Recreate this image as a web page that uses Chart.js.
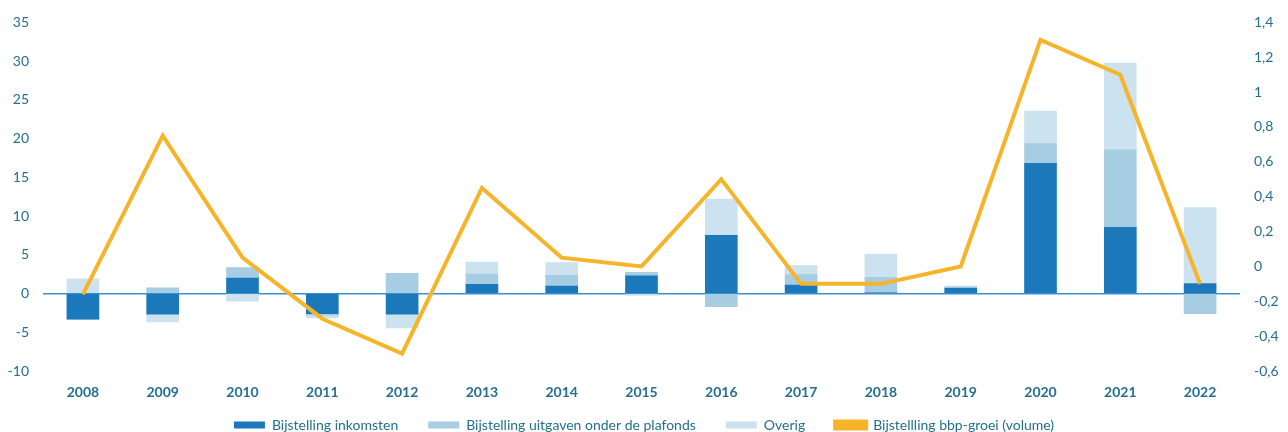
<!DOCTYPE html>
<html>
<head>
<meta charset="utf-8">
<script src="https://cdn.jsdelivr.net/npm/chart.js@4/dist/chart.umd.min.js"></script>
<style>
  html, body { margin: 0; padding: 0; background: #fff; }
  #wrap { width: 1288px; height: 432px; }
</style>
</head>
<body>
<div id="wrap"><canvas id="myChart" width="1288" height="432"></canvas></div>
<script>
const years = ['2008', '2009', '2010', '2011', '2012', '2013', '2014', '2015',
  '2016', '2017', '2018', '2019', '2020', '2021', '2022'];

// bijstellingen (mld euro), linkeras
const inkomsten = [-3.3, -2.65, 2.0, -2.6, -2.65, 1.2, 0.95, 2.3, 7.5, 1.1, 0.1, 0.7, 16.8, 8.55, 1.3];
const uitgaven = [0, 0.75, 1.35, -0.2, 2.6, 1.3, 1.4, 0.45, -1.7, 1.35, 2.0, 0, 2.55, 10.0, -2.6];
const overig = [1.9, -1.0, -1.0, -0.35, -1.8, 1.55, 1.65, -0.25, 4.7, 1.15, 3.0, 0.3, 4.2, 11.2, 9.8];

// bbp-groei (procentpunt), rechteras
const bbpGroei = [-0.16, 0.75, 0.05, -0.3, -0.5, 0.45, 0.05, 0, 0.5, -0.1, -0.1, 0, 1.3, 1.1, -0.1];

const tekstKleur = '#246f8f';
const font = 'Lato, "Open Sans", sans-serif';

const data = {
  labels: years,
  datasets: [{
    type: 'bar',
    label: 'Bijstelling inkomsten',
    data: inkomsten,
    backgroundColor: '#1a78bb',
    yAxisID: 'y',
    order: 1
  }, {
    type: 'bar',
    label: 'Bijstelling uitgaven onder de plafonds',
    data: uitgaven,
    backgroundColor: '#a6cde2',
    yAxisID: 'y',
    order: 1
  }, {
    type: 'bar',
    label: 'Overig',
    data: overig,
    backgroundColor: '#cde2ef',
    yAxisID: 'y',
    order: 1
  }, {
    type: 'line',
    label: 'Bijstellling bbp-groei (volume)',
    data: bbpGroei,
    borderColor: '#f6b42b',
    backgroundColor: '#f6b42b',
    borderWidth: 4,
    pointRadius: 0,
    tension: 0,
    yAxisID: 'y1',
    order: 0
  }]
};

// legenda vaste hoogte geven, anders wordt het plotgebied te klein
const legendHoogte = {
  id: 'legendHoogte',
  beforeUpdate(chart) {
    const lg = chart.legend;
    if (lg && !lg._gepatcht) {
      const fit = lg.fit;
      lg.fit = function () {
        fit.call(this);
        this.height = 44;
      };
      lg._gepatcht = true;
    }
  }
};

const config = {
  type: 'bar',
  data: data,
  plugins: [legendHoogte],
  options: {
    responsive: false,
    animation: false,
    layout: { padding: { top: 0, bottom: 0, left: 0, right: 0 } },
    datasets: {
      bar: { barThickness: 32, borderWidth: 0 }
    },
    plugins: {
      tooltip: { enabled: false },
      legend: {
        position: 'bottom',
        labels: {
          color: tekstKleur,
          font: { family: font, size: 14 },
          boxWidth: 31,
          boxHeight: 7,
          padding: 30,
          sort: (a, b) => a.datasetIndex - b.datasetIndex
        }
      }
    },
    scales: {
      x: {
        stacked: true,
        afterFit: (scale) => {
          scale.height = 17;
          // labels niet afknippen op de (smalle) asbox
          scale._computeLabelArea = () => null;
        },
        grid: { display: false },
        border: { display: false },
        ticks: {
          color: tekstKleur,
          font: { family: font, size: 14, weight: 'bold' },
          padding: 5
        }
      },
      y: {
        stacked: true,
        position: 'left',
        min: -10,
        max: 35,
        afterFit: (scale) => { scale.width = 43; },
        border: { display: false },
        grid: {
          drawTicks: false,
          color: (ctx) => ctx.tick && ctx.tick.value === 0 ? '#3b8fd0' : 'rgba(0,0,0,0)',
          lineWidth: 1.5
        },
        ticks: {
          stepSize: 5,
          color: tekstKleur,
          font: { family: font, size: 14 },
          padding: 14
        }
      },
      y1: {
        position: 'right',
        min: -0.6,
        max: 1.4,
        afterFit: (scale) => { scale.width = 48; },
        border: { display: false },
        grid: { display: false, drawTicks: false },
        ticks: {
          stepSize: 0.2,
          color: tekstKleur,
          font: { family: font, size: 14 },
          padding: 14,
          callback: (v) => String(Math.round(v * 10) / 10).replace('.', ',')
        }
      }
    }
  }
};

const myChart = new Chart(document.getElementById('myChart'), config);
</script>
</body>
</html>
